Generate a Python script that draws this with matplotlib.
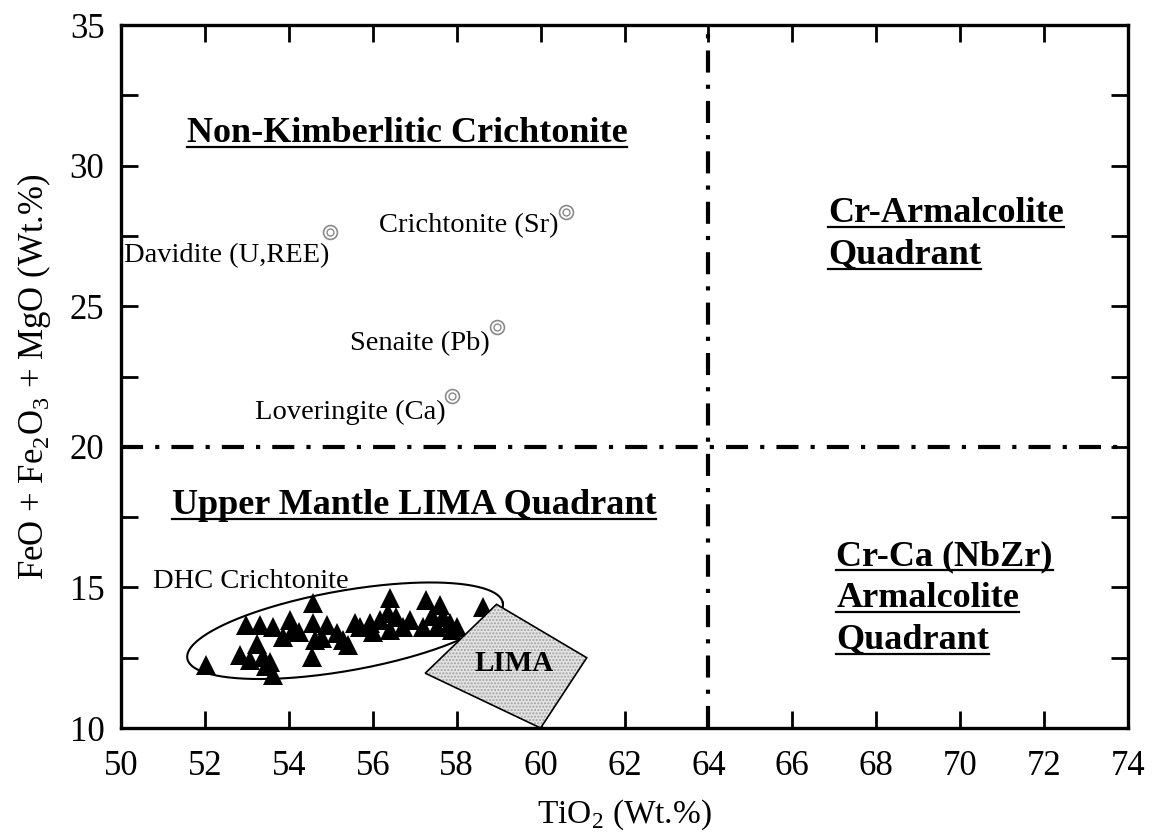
# FeO + Fe2O3 + MgO vs TiO2 discrimination diagram for crichtonite-group minerals
import numpy as np
import matplotlib.pyplot as plt
from matplotlib.patches import Polygon
from matplotlib.lines import Line2D

plt.rcParams['font.family'] = ['Liberation Serif', 'DejaVu Serif']
plt.rcParams['mathtext.fontset'] = 'custom'
plt.rcParams['mathtext.rm'] = 'Liberation Serif'

# DHC crichtonite analyses (wt.%)
tio2 = [52.03, 53.63, 52.99, 53.31, 53.63, 52.84, 53.23, 53.07, 53.39, 53.55,
        54.03, 54.10, 53.87, 54.58, 54.58, 54.54, 54.62, 54.90, 55.14, 55.30,
        55.42, 55.58, 55.93, 56.17, 56.41, 56.37, 56.41, 56.73, 56.89, 57.28,
        57.20, 57.60, 57.68, 57.52, 57.84, 58.00, 58.63, 54.25, 54.80, 55.70,
        56.55, 57.40, 57.90, 53.45, 56.00]
fe_mg = [12.24, 11.88, 13.66, 13.66, 13.60, 12.60, 13.00, 12.42, 12.54, 12.36,
         13.84, 13.50, 13.25, 14.44, 13.73, 12.54, 13.13, 13.66, 13.38, 13.13,
         12.95, 13.72, 13.72, 13.84, 14.61, 14.08, 13.49, 13.60, 13.84, 14.55,
         13.60, 14.37, 13.96, 13.60, 13.72, 13.60, 14.31, 13.40, 13.20, 13.60,
         13.95, 14.00, 13.50, 12.20, 13.40]

# reference minerals of the crichtonite group
ref_names = ['Davidite (U,REE)', 'Crichtonite (Sr)', 'Senaite (Pb)', 'Loveringite (Ca)']
ref_tio2 = [54.97, 60.60, 58.95, 57.90]
ref_fe_mg = [27.65, 28.35, 24.27, 21.80]

# LIMA field outline
lima_tio2 = [57.25, 58.95, 61.10, 60.00]
lima_fe_mg = [11.95, 14.40, 12.50, 10.00]

# DHC field: ends of the long axis and ratio of minor to major axis
dhc_tips_tio2 = [51.58, 59.10]
dhc_tips_fe_mg = [12.47, 14.45]
dhc_axis_ratio = 0.25

# quadrant boundaries
ti_split = 64
fe_split = 20

fig = plt.figure(figsize=(11.55, 8.35), dpi=100)
ax = fig.add_axes([0.1048, 0.1281, 0.8718, 0.8419])
ax.set_xlim(50, 74)
ax.set_ylim(10, 35)

# quadrant divisions
dashdot = (0, (5.3, 2.9, 1.0, 2.9))
ax.axhline(fe_split, color='k', lw=3, linestyle=dashdot, dash_capstyle='butt', zorder=2)
ax.axvline(ti_split, color='k', lw=3, linestyle=dashdot, dash_capstyle='butt', zorder=2)

# DHC ellipse, built in display space so it stays a true ellipse
tips = ax.transData.transform(np.column_stack([dhc_tips_tio2, dhc_tips_fe_mg]))
ctr = tips.mean(axis=0)
d = tips[1] - tips[0]
a = np.hypot(*d) / 2
b = a * dhc_axis_ratio
ang = np.arctan2(d[1], d[0])
t = np.linspace(0, 2 * np.pi, 300)
ex = ctr[0] + a * np.cos(t) * np.cos(ang) - b * np.sin(t) * np.sin(ang)
ey = ctr[1] + a * np.cos(t) * np.sin(ang) + b * np.sin(t) * np.cos(ang)
ell = ax.transData.inverted().transform(np.column_stack([ex, ey]))
ax.plot(ell[:, 0], ell[:, 1], color='k', lw=1.5, zorder=3)

ax.plot(tio2, fe_mg, linestyle='none', marker='^', ms=14, color='k', mew=0, zorder=4)

# LIMA field
lima_xy = np.column_stack([lima_tio2, lima_fe_mg])
ax.add_patch(Polygon(lima_xy, closed=True, facecolor='#e4e4e4', edgecolor='none', zorder=5))
ax.add_patch(Polygon(lima_xy, closed=True, facecolor='none', edgecolor='#a0a0a0',
                     hatch='.....', lw=0, zorder=5))
ax.add_patch(Polygon(lima_xy, closed=True, facecolor='none', edgecolor='k', lw=1.2, zorder=6))
ax.text(np.mean(lima_tio2) + 0.05, np.mean(lima_fe_mg) + 0.1, 'LIMA', fontsize=21,
        fontweight='bold', ha='center', va='center', zorder=7)

# reference mineral points (double circles)
ax.plot(ref_tio2, ref_fe_mg, linestyle='none', marker='o', ms=10, mfc='white',
        mec='#8a8a8a', mew=1.2, zorder=4)
ax.plot(ref_tio2, ref_fe_mg, linestyle='none', marker='o', ms=5, mfc='white',
        mec='#8a8a8a', mew=1.0, zorder=4)
offsets = [(0, -17), (-5, -10), (-5, -12), (-5, -12)]
for name, x, y, off in zip(ref_names, ref_tio2, ref_fe_mg, offsets):
    ax.annotate(name, (x, y), xytext=off, textcoords='offset points',
                ha='right', va='center', fontsize=20.5)

ax.text(50.76, 15.2, 'DHC Crichtonite', fontsize=20.5, ha='left', va='center')

# quadrant headings
headings = [
    (56.82, 31.15, 'Non-Kimberlitic Crichtonite', 'center'),
    (56.98, 17.93, 'Upper Mantle LIMA Quadrant', 'center'),
    (66.85, 28.31, 'Cr-Armalcolite', 'left'),
    (66.85, 26.82, 'Quadrant', 'left'),
    (67.05, 16.09, 'Cr-Ca (NbZr)', 'left'),
    (67.05, 14.61, 'Armalcolite', 'left'),
    (67.05, 13.13, 'Quadrant', 'left'),
]
head_txt = [ax.text(x, y, s, fontsize=26, fontweight='bold', ha=ha, va='center')
            for x, y, s, ha in headings]

# axes styling
ax.set_xticks(np.arange(50, 75, 2))
ax.set_yticks(np.arange(10, 36, 5))
ax.set_yticks(np.arange(12.5, 35, 5), minor=True)
ax.tick_params(which='both', direction='in', top=True, right=True,
               length=12, width=2, labelsize=25)
ax.tick_params(axis='x', pad=16)
ax.tick_params(axis='y', pad=12)
for sp in ax.spines.values():
    sp.set_linewidth(2.4)

ax.set_xlabel(r'TiO$_2$ (Wt.%)', fontsize=24, labelpad=10)
ax.set_ylabel(r'FeO + Fe$_2$O$_3$ + MgO (Wt.%)', fontsize=25, labelpad=12)

# underline the headings
fig.canvas.draw()
renderer = fig.canvas.get_renderer()
inv = fig.transFigure.inverted()
for txt in head_txt:
    bb = txt.get_window_extent(renderer)
    (x0, y0), (x1, _) = inv.transform([[bb.x0, bb.y0 + 3], [bb.x1, bb.y0 + 3]])
    fig.add_artist(Line2D([x0, x1], [y0, y0], color='k', lw=1.6))

fig.savefig('out.png', dpi=100, facecolor='white')
